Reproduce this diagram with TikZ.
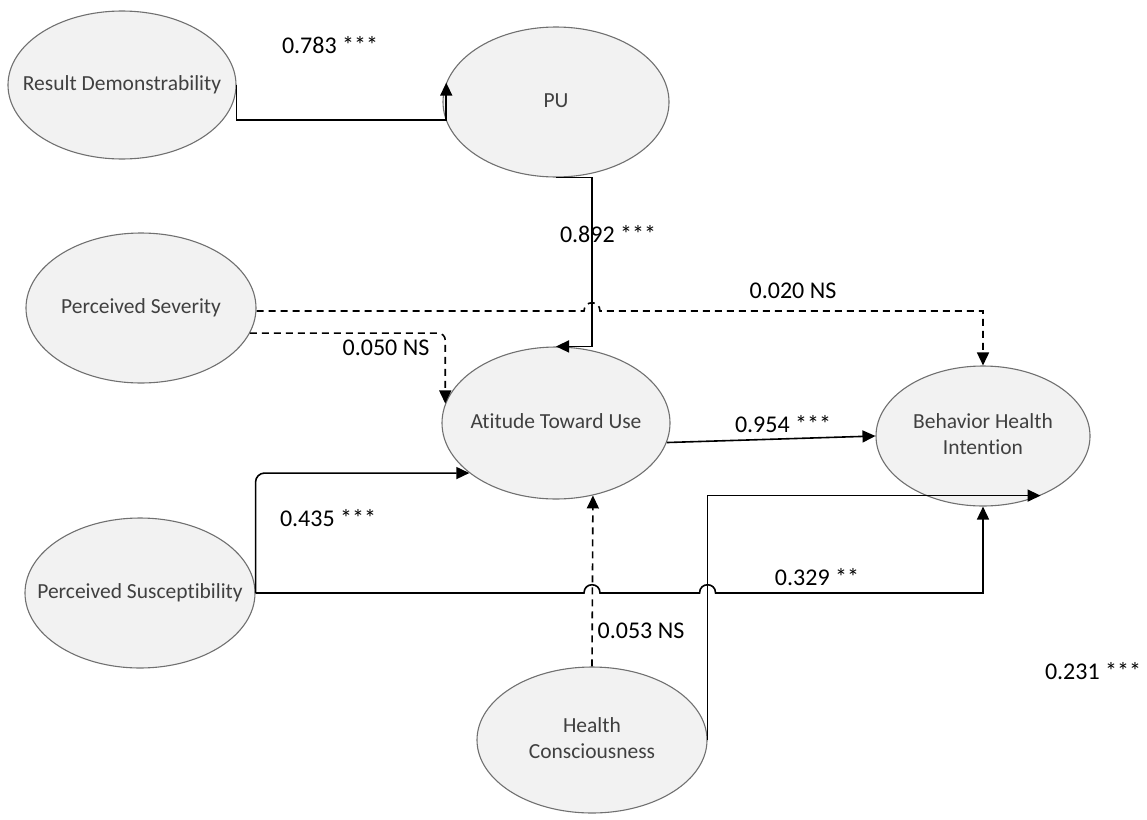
\documentclass[tikz,border=0pt]{standalone}
\usepackage{fontspec}
\setmainfont{Carlito}[Ligatures=NoCommon]
\usetikzlibrary{shapes.geometric,arrows.meta,calc}
\definecolor{ellgray}{HTML}{707070}
\definecolor{ellfill}{HTML}{F2F2F2}
\definecolor{txtgray}{HTML}{404040}
\newcommand{\ztext}[1]{\makebox[0pt]{\begin{tabular}{@{}c@{}}#1\end{tabular}}}
\begin{document}
\begin{tikzpicture}[x=1pt,y=-1pt,
  construct/.style={ellipse, draw=ellgray, line width=1.1pt, fill=ellfill, inner sep=0pt,
    text=txtgray, font=\fontsize{21.5}{26}\selectfont, minimum width=228pt, minimum height=148pt},
  lbl/.style={font=\fontsize{24}{28}\selectfont, text=black, inner sep=0pt},
  link/.style={line width=1.6pt, -{Triangle[length=13pt,width=12pt]}},
  nslink/.style={link, dash pattern=on 7pt off 5pt},
]
\useasboundingbox (0,0) rectangle (1147,819);

\node[construct] (RD) at (122,85) {\ztext{Result Demonstrability}};
\node[construct, minimum height=150pt, minimum width=226pt] (PU) at (556,102) {\ztext{PU}};
\node[construct, minimum width=230pt, minimum height=150pt] (PS) at (141,308) {\ztext{Perceived Severity}};
\node[construct, minimum height=152pt] (ATU) at (556,423) {\ztext{Atitude Toward Use}};
\node[construct, minimum width=214pt, minimum height=140pt] (BHI) at (983,436) {\ztext{Behavior Health\\Intention}};
\node[construct, minimum width=230pt, minimum height=150pt] (PSus) at (140,593) {\ztext{Perceived Susceptibility}};
\node[construct, minimum width=230pt, minimum height=146pt] (HC) at (592,740) {\ztext{Health\\Consciousness}};

\coordinate (j1) at ($(PU.south)+(36,0)$);
\coordinate (h0) at ($(j1 |- PS.east)+(0,3)$);
\coordinate (h1) at (HC.north |- PSus.east);
\coordinate (h2) at (HC.east |- PSus.east);

% RD -> PU
\draw[link] (RD.east) -- ++(0,35) -| (PU.170);
% PU -> ATU
\draw[link] (PU.south) -- (j1) |- (ATU.north);
% PS -> BHI
\draw[nslink] (PS.east |- h0) -- ($(h0)+(-8,0)$) .. controls +(0,-11) and +(0,-11) .. ($(h0)+(8,0)$) -| (BHI.north);
% PS -> ATU
\draw[nslink, rounded corners=7pt] (PS.-13) -| (ATU.170);
% ATU -> BHI
\draw[link] (ATU.-10) -- (BHI.west);
% PSus -> ATU
\draw[link, rounded corners=9pt] (PSus.east) |- (ATU.210);
% PSus -> BHI
\draw[link] (PSus.east) -- ($(h1)+(-8,0)$) .. controls +(0,-11) and +(0,-11) .. ($(h1)+(8,0)$)
  -- ($(h2)+(-8,0)$) .. controls +(0,-11) and +(0,-11) .. ($(h2)+(8,0)$) -| (BHI.south);
% HC -> ATU
\draw[nslink] (HC.north) -- (ATU.-63);
% HC -> BHI
\draw[link] (HC.east) |- (BHI.-46);

% labels
\node[lbl] (l1) at (330,45) {0.783 ***};
\node[lbl] (l2) at (608,234) {0.892 ***};
\node[lbl] (l3) at (793,291) {0.020 NS};
\node[lbl] (l4) at (386,348) {0.050 NS};
\node[lbl] (l5) at (783,424) {0.954 ***};
\node[lbl] (l6) at (328,518) {0.435 ***};
\node[lbl] (l7) at (817,577) {0.329 **};
\node[lbl] (l8) at (641,631) {0.053 NS};
\node[lbl] (l9) at (1093,671) {0.231 ***};
\end{tikzpicture}
\end{document}
